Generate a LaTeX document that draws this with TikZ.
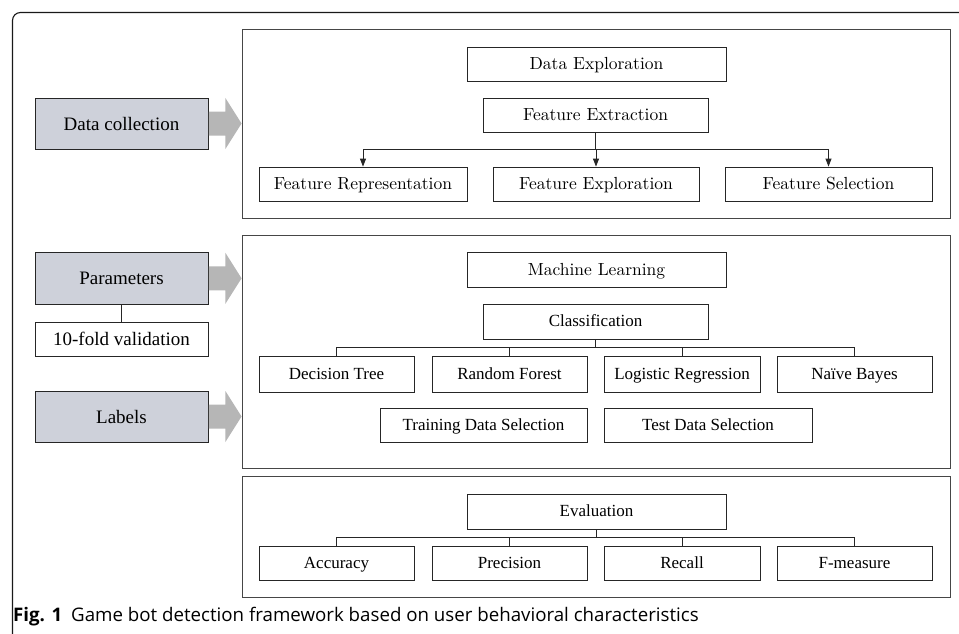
\documentclass[tikz,border=0pt]{standalone}
\usepackage{fontspec}
\setmainfont{Liberation Serif}
\newfontfamily\lmfont{lmroman10-regular}[Extension=.otf]
\newfontfamily\capfont{Open Sans}
\usetikzlibrary{arrows.meta,calc}
\definecolor{boxgray}{RGB}{206,209,218}
\definecolor{arrgray}{RGB}{182,182,182}
\definecolor{linegray}{RGB}{70,70,70}
\tikzset{
  section/.style={draw=linegray,line width=0.9pt,inner sep=0pt,minimum width=708pt},
  basebox/.style={draw=black!85,line width=0.8pt,inner sep=0pt,text height=11pt,text depth=0.4pt},
  tbox/.style={basebox,font=\fontsize{17}{20}\selectfont},
  cmbox/.style={basebox,font=\lmfont\fontsize{17.5}{20}\selectfont},
  graybox/.style={basebox,text height=13pt,text depth=0pt,fill=boxgray,minimum width=173pt,font=\fontsize{19}{22}\selectfont},
  whitebox/.style={basebox,text height=13pt,text depth=0pt,minimum width=173pt,font=\fontsize{19}{22}\selectfont},
  conn/.style={draw=black!85,line width=0.8pt},
  tri/.style={conn,-{Triangle[length=8pt,width=6pt]}},
  bigarrow/.style={fill=arrgray,draw=none},
}
\begin{document}
\begin{tikzpicture}[x=1pt,y=-1pt]
\useasboundingbox (0,0) rectangle (959,634);
% outer frame
\draw[line width=1.1pt,black!90,rounded corners=8pt] (12.5,640) -- (12.5,12.5) -- (970,12.5);

% sections
\node[section,minimum height=189pt] (s1) at (596,123.5) {};
\node[section,minimum height=232.3pt] (s2) at (596,351.85) {};
\node[section,minimum height=121pt] (s3) at (596,537.2) {};

% section 1
\node[cmbox,minimum width=259pt,minimum height=34pt] (de) at (596.5,64) {Data Exploration};
\node[cmbox,minimum width=225pt,minimum height=34pt] (fe) at (595.5,115) {Feature Extraction};
\node[cmbox,minimum width=208pt,minimum height=34pt] (fr) at (363,184) {Feature Representation};
\node[cmbox,minimum width=206pt,minimum height=34pt] (fx) at (596,184) {Feature Exploration};
\node[cmbox,minimum width=207pt,minimum height=34pt] (fs) at (828.5,184) {Feature Selection};
\coordinate (b1) at (0,149);
\draw[conn] (fe.south) -- (fe.south |- b1);
\draw[conn] (fr.north |- b1) -- (fs.north |- b1);
\draw[tri] (fr.north |- b1) -- (fr.north);
\draw[tri] (fx.north |- b1) -- (fx.north);
\draw[tri] (fs.north |- b1) -- (fs.north);

% left inputs
\node[graybox,minimum height=51pt] (dc) at (121.5,123.5) {Data collection};
\node[graybox,minimum height=51.3pt] (pa) at (121.5,278.3) {Parameters};
\node[whitebox,minimum height=34.7pt] (tf) at (121.5,339.3) {10-fold validation};
\node[graybox,minimum height=51pt] (la) at (121.5,416.5) {Labels};
\draw[conn] (pa.south) -- (tf.north);

% big arrows
\foreach \n/\s in {dc/s1,pa/s2,la/s2}{
  \path[bigarrow] ($(\n.east)+(0.4,-12)$) -- ($(\n.east)+(17,-12)$) -- ($(\n.east)+(17,-25.5)$)
     -- (\s.west |- \n.east) -- ($(\n.east)+(17,25.5)$) -- ($(\n.east)+(17,12)$) -- ($(\n.east)+(0.4,12)$) -- cycle;
}

% section 2
\node[cmbox,minimum width=259pt,minimum height=35pt] (ml) at (596.5,270.2) {Machine Learning};
\node[tbox,minimum width=225pt,minimum height=35pt] (cl) at (595.5,321.5) {Classification};
\node[tbox,minimum width=155pt,minimum height=36pt] (dt) at (336.5,374) {Decision Tree};
\node[tbox,minimum width=155pt,minimum height=36pt] (rf) at (509.5,374) {Random Forest};
\node[tbox,minimum width=156pt,minimum height=36pt] (lr) at (682,374) {Logistic Regression};
\node[tbox,minimum width=155pt,minimum height=36pt] (nb) at (854.5,374) {Naïve Bayes};
\node[tbox,minimum width=207pt,minimum height=34pt] (tr) at (483.5,425) {Training Data Selection};
\node[tbox,minimum width=208pt,minimum height=34pt] (te) at (708,425) {Test Data Selection};
\coordinate (b2) at (0,347.3);
\draw[conn] (cl.south) -- (cl.south |- b2);
\draw[conn] (dt.north) -- (dt.north |- b2) -- (nb.north |- b2) -- (nb.north);
\draw[conn] (rf.north) -- (rf.north |- b2);
\draw[conn] (lr.north) -- (lr.north |- b2);

% section 3
\node[tbox,minimum width=259pt,minimum height=35pt] (ev) at (596.5,511.5) {Evaluation};
\node[tbox,minimum width=155pt,minimum height=34pt] (ac) at (336.5,563) {Accuracy};
\node[tbox,minimum width=155pt,minimum height=34pt] (pr) at (509.5,563) {Precision};
\node[tbox,minimum width=156pt,minimum height=34pt] (rc) at (682,563) {Recall};
\node[tbox,minimum width=155pt,minimum height=34pt] (fm) at (854.5,563) {F-measure};
\coordinate (b3) at (0,537.3);
\draw[conn] (ev.south) -- (ev.south |- b3);
\draw[conn] (ac.north) -- (ac.north |- b3) -- (fm.north |- b3) -- (fm.north);
\draw[conn] (pr.north) -- (pr.north |- b3);
\draw[conn] (rc.north) -- (rc.north |- b3);

% caption
\node[anchor=west,inner sep=0pt,font=\capfont\fontsize{18.7}{22}\selectfont] (cap) at (13,617)
  {\textbf{Fig. 1}\hspace{9pt}Game bot detection framework based on user behavioral characteristics};
\end{tikzpicture}
\end{document}
